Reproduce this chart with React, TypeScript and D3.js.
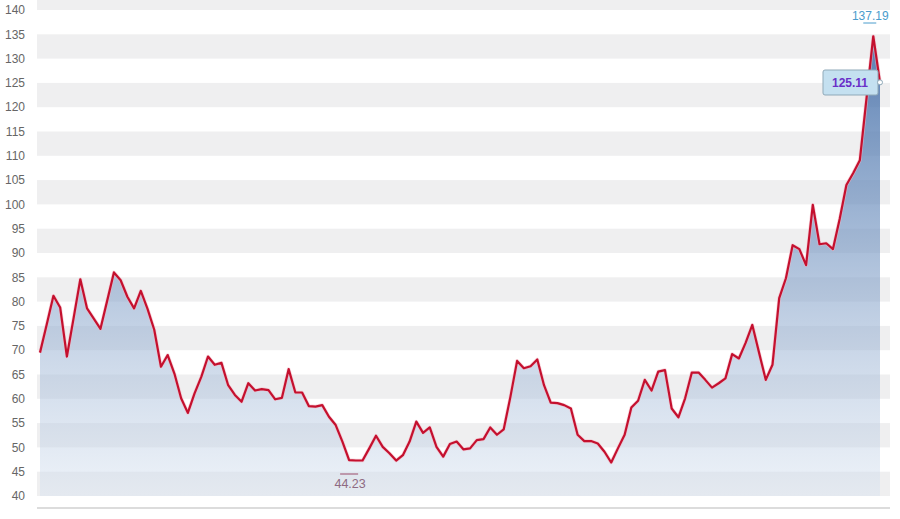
import React from "react";
import * as d3 from "d3";

const values: number[] = [
  69.5, 75.3, 81.2, 78.8, 68.7, 76.6, 84.6, 78.6, 76.5, 74.4,
  80.2, 86.0, 84.4, 81.0, 78.6, 82.2, 78.5, 74.2, 66.6, 69.0,
  65.2, 60.1, 57.1, 61.1, 64.5, 68.7, 67.0, 67.4, 62.8, 60.8,
  59.4, 63.2, 61.7, 62.0, 61.8, 59.9, 60.2, 66.1, 61.3, 61.3,
  58.5, 58.4, 58.7, 56.3, 54.6, 51.2, 47.4, 47.3, 47.3, 49.8,
  52.4, 50.1, 48.8, 47.3, 48.4, 51.2, 55.3, 53.0, 54.1, 50.1,
  48.1, 50.7, 51.2, 49.6, 49.8, 51.5, 51.7, 54.1, 52.6, 53.7,
  60.4, 67.8, 66.3, 66.7, 68.1, 62.8, 59.2, 59.1, 58.7, 58.0,
  52.6, 51.3, 51.3, 50.8, 49.1, 46.9, 49.8, 52.6, 58.2, 59.6,
  63.9, 61.7, 65.6, 65.9, 58.0, 56.2, 60.1, 65.4, 65.4, 63.9,
  62.3, 63.2, 64.2, 69.2, 68.3, 71.5, 75.2, 69.5, 63.9, 67.0,
  80.7, 84.8, 91.6, 90.8, 87.5, 99.9, 91.8, 92.0, 90.8, 97.0,
  104.0, 106.4, 109.1, 121.9, 134.6, 125.11,
];

const yTicks: number[] = d3.range(40, 141, 5);
const highLabel = "137.19";
const highLabelIndex = 124;
const lowLabel = "44.23";
const lowLabelIndex = 46;
const lastLabel = "125.11";

const W = 900;
const H = 519;

export default function App() {
  const x = d3.scaleLinear().domain([0, values.length - 1]).range([40, 880]);
  const y = d3.scaleLinear().domain([40, 140]).range([496, 10]);

  const line = d3
    .line<number>()
    .x((_, i) => x(i))
    .y((d) => y(d));
  const area = d3
    .area<number>()
    .x((_, i) => x(i))
    .y0(y(40))
    .y1((d) => y(d));

  const bands: number[] = d3.range(40, 145, 10);
  const bandLeft = 37;
  const bandRight = 890;

  const lastIdx = values.length - 1;
  const font = "'Liberation Sans', Arial, sans-serif";
  const hx = x(highLabelIndex);
  const lx = x(lowLabelIndex);

  return (
    <svg
      width={W}
      height={H}
      style={{ position: "absolute", left: 0, top: 0, background: "#fff" }}
    >
      <defs>
        <linearGradient
          id="areaGrad"
          gradientUnits="userSpaceOnUse"
          x1={0}
          x2={0}
          y1={y(135)}
          y2={y(40)}
        >
          <stop offset="0%" stopColor="rgb(68,110,168)" stopOpacity={0.9} />
          <stop offset="45%" stopColor="rgb(120,152,195)" stopOpacity={0.65} />
          <stop offset="100%" stopColor="rgb(215,226,240)" stopOpacity={0.45} />
        </linearGradient>
      </defs>

      {bands.map((b) => (
        <rect
          key={b}
          x={bandLeft}
          width={bandRight - bandLeft}
          y={Math.max(0, y(b + 5))}
          height={y(b) - Math.max(0, y(b + 5))}
          fill="#efeff0"
        />
      ))}

      <line
        x1={bandLeft}
        x2={bandRight}
        y1={508}
        y2={508}
        stroke="#dcdcdc"
        strokeWidth={2}
      />

      {yTicks.map((t) => (
        <text
          key={t}
          x={25}
          y={y(t)}
          dy="0.35em"
          textAnchor="end"
          fontFamily={font}
          fontSize={12}
          fill="#666"
        >
          {t}
        </text>
      ))}

      <path d={area(values) || ""} fill="url(#areaGrad)" />
      <path
        d={line(values) || ""}
        fill="none"
        stroke="#f3b8c4"
        strokeOpacity={0.6}
        strokeWidth={3.6}
        strokeLinejoin="round"
      />
      <path
        d={line(values) || ""}
        fill="none"
        stroke="#c4102e"
        strokeWidth={2.2}
        strokeLinejoin="round"
      />

      {/* high marker */}
      <text
        x={hx - 3}
        y={16}
        dy="0.35em"
        textAnchor="middle"
        fontFamily={font}
        fontSize={12}
        fill="#4a9ccc"
      >
        {highLabel}
      </text>
      <line
        x1={hx - 10}
        x2={hx + 3}
        y1={23}
        y2={23}
        stroke="#4a9ccc"
        strokeWidth={1}
      />

      {/* low marker */}
      <line
        x1={lx - 9}
        x2={lx + 9}
        y1={474}
        y2={474}
        stroke="#9a4a6a"
        strokeWidth={1}
      />
      <text
        x={lx + 1}
        y={484}
        dy="0.35em"
        textAnchor="middle"
        fontFamily={font}
        fontSize={12.5}
        fill="#8f6a82"
      >
        {lowLabel}
      </text>

      {/* last value tag */}
      <rect
        x={823}
        y={70}
        width={55}
        height={25}
        rx={2}
        fill="#c4e0f0"
        stroke="#8fa9b8"
        strokeWidth={1}
      />
      <text
        x={850}
        y={82.5}
        dy="0.35em"
        textAnchor="middle"
        fontFamily={font}
        fontSize={12}
        fontWeight="bold"
        fill="#6a2fc8"
      >
        {lastLabel}
      </text>
      <circle
        cx={x(lastIdx)}
        cy={y(values[lastIdx])}
        r={2.5}
        fill="#fff"
        stroke="#8fa9b8"
        strokeWidth={1}
      />
    </svg>
  );
}
